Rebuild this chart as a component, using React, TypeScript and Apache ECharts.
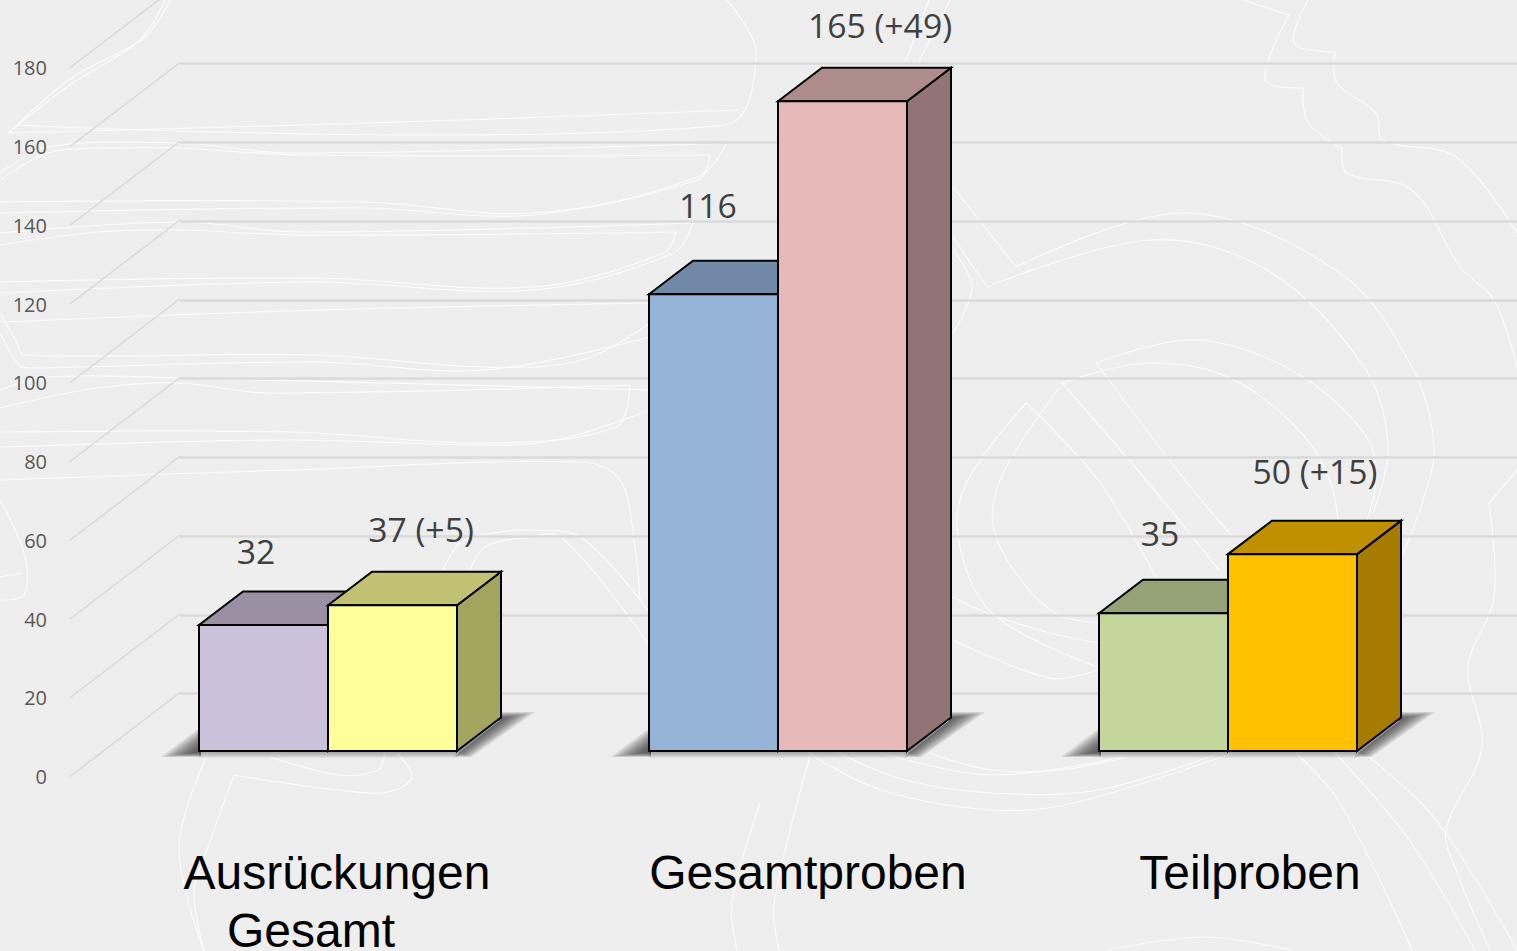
import React, { useEffect, useRef } from "react";
import * as echarts from "echarts";

const categories = ["Ausrückungen\nGesamt", "Gesamtproben", "Teilproben"];
const previousValues = [32, 116, 35];
const currentValues = [37, 165, 50];
const axisTicks = [0, 20, 40, 60, 80, 100, 120, 140, 160, 180];

const prevFront = ["#CCC1DA", "#95B3D7", "#C3D69B"];
const prevTop = ["#9B90A3", "#7189A6", "#94A276"];
const currFront = ["#FFFF99", "#E6B9B8", "#FFC000"];
const currTop = ["#C1C174", "#AE8C8B", "#C19000"];
const currSide = ["#A3A55F", "#917473", "#A57C00"];

// per-point nudges of hand-placed labels, relative to the bar's top
const prevLabelNudge = [[-72, -74], [-70, -89], [-68, -80]];
const currLabelNudge = [[93, -76], [102, -76], [87, -83]];
// per-category label nudges (one list per text line)
const catNudge = [[9, -17], [30], [22]];

const BAR_W = 129;
const DEPTH_X = 44;
const DEPTH_Y = 33.5;
const WALL_DX = 110;
const WALL_DY = 84;
const LABEL_FONT = '33.7px "Open Sans"';
const BASE_BG = "#EEEEEE";
const SHADOW_LAYERS = 9;

// decorative background contour lines
const contours: number[][][] = [
  [[170,0],[145,37],[73,77],[17,125]],
  [[17,125],[725,125],[756,53],[727,0]],
  [[165,0],[140,40],[70,85],[8,133]],
  [[8,133],[400,122],[739,110]],
  [[0,180],[48,153],[111,148],[179,148],[300,155],[710,155]],
  [[710,155],[698,180],[533,213],[364,202],[0,202]],
  [[0,173],[48,147],[179,143],[291,153],[727,143]],
  [[727,143],[698,177],[533,215],[364,208],[0,213]],
  [[0,245],[97,232],[179,230],[300,235],[676,232]],
  [[676,232],[664,253],[533,287],[315,278],[0,282]],
  [[0,233],[179,222],[300,232],[693,223]],
  [[693,223],[674,253],[533,290],[315,282],[0,293]],
  [[0,322],[315,310],[650,303]],
  [[650,323],[582,360],[485,367],[315,355],[24,355],[17,343],[0,313]],
  [[0,333],[19,365],[29,368],[315,362],[485,370],[650,337]],
  [[0,408],[97,388],[179,383],[267,393],[630,385]],
  [[630,385],[616,427],[485,443],[291,432],[0,432]],
  [[0,390],[48,377],[179,378],[650,390]],
  [[650,410],[557,440],[485,445],[291,440],[0,447]],
  [[0,480],[291,470],[582,462],[620,480],[634,540],[640,600]],
  [[443,570],[460,543],[494,533],[533,530],[582,538],[650,613]],
  [[470,570],[485,547],[523,538],[562,538],[650,647]],
  [[208,753],[179,847],[204,951]],
  [[233,777],[208,847],[194,890],[204,951]],
  [[233,775],[339,790],[388,792],[412,777],[397,753]],
  [[270,757],[339,775],[378,770],[385,753]],
  [[0,500],[24,553],[24,595],[0,600]],
  [[0,577],[22,573]],
  [[808,753],[881,790],[992,810],[1074,803],[1233,753]],
  [[832,750],[905,780],[992,793],[1098,790],[1228,750]],
  [[881,753],[992,775],[1122,757]],
  [[929,753],[992,770],[1060,770],[1127,757]],
  [[953,187],[1016,267]],
  [[1016,267],[1185,213],[1340,273],[1412,367],[1434,447],[1422,503],[1400,560]],
  [[953,237],[987,287]],
  [[987,287],[1151,240],[1267,270],[1364,367],[1388,447],[1373,513]],
  [[1096,363],[1195,340],[1291,370],[1364,433],[1376,480],[1360,540]],
  [[1096,363],[1185,480],[1233,537]],
  [[1062,383],[1146,363],[1228,377],[1296,427],[1330,480],[1340,540]],
  [[1062,383],[1146,480],[1219,570]],
  [[1060,387],[1000,480],[996,537],[1050,610],[1098,623]],
  [[1026,403],[968,480],[958,537],[992,613],[1098,667]],
  [[1026,403],[1098,480],[1156,577]],
  [[953,597],[987,613],[1050,633],[1098,643]],
  [[953,640],[1050,678],[1098,670]],
  [[1296,753],[1340,803],[1412,950]],
  [[1335,753],[1407,837],[1475,950]],
  [[1364,753],[1436,820],[1517,950]],
  [[1489,503],[1494,597],[1468,667],[1482,747],[1446,830],[1456,870],[1490,950]],
  [[1517,470],[1489,503]],
  [[1243,0],[1289,15]],
  [[1289,15],[1265,80],[1303,88]],
  [[1303,88],[1308,123],[1342,148]],
  [[1342,148],[1347,173],[1412,190],[1460,267],[1494,300],[1517,367]],
  [[1308,0],[1294,43],[1335,52]],
  [[1335,52],[1337,83],[1376,113],[1383,140],[1456,157],[1517,233]],
  [[953,250],[972,287],[953,333]],
  [[811,753],[774,903],[779,950]],
  [[760,803],[732,903],[737,950]],
  [[1108,950],[1204,937],[1291,950]],
  [[929,0],[905,63]],
  [[950,0],[918,63]],
];

function tokenKey(n: number, lineIndex: number) {
  return (lineIndex === 0 ? "a" : "b") + (n >= 0 ? "r" : "l") + Math.abs(n);
}

function catFormatter(value: string, index: number) {
  return value
    .split("\n")
    .map((line, li) => `{${tokenKey(catNudge[index]?.[li] ?? 0, li)}|${line}}`)
    .join("\n");
}

function catRich() {
  const rich: Record<string, any> = {};
  catNudge.forEach((list) =>
    list.forEach((n, li) => {
      rich[tokenKey(n, li)] = {
        fontFamily: '"Liberation Sans"',
        fontSize: 48,
        // first line tall, second short: centres stay 58px apart and the box ends on the page
        lineHeight: li === 0 ? 76 : 40,
        color: "#000000",
        padding: n >= 0 ? [0, 0, 0, 2 * n] : [0, -2 * n, 0, 0],
      };
    })
  );
  return rich;
}

const edge = { stroke: "#000000", lineWidth: 2, lineJoin: "miter" };

function poly(points: number[][], fill: string) {
  return { type: "polygon", shape: { points }, style: { fill, ...edge } };
}

function barItem(
  offsetSign: number,
  front: string[],
  top: string[],
  side: string[] | null,
  nudges: number[][],
  text: (i: number, v: number) => string
) {
  return (params: any, api: any) => {
    const i = api.value(0);
    const v = api.value(1);
    const t = api.coord([i, v]);
    const b = api.coord([i, 0]);
    const x0 = offsetSign < 0 ? t[0] - BAR_W : t[0];
    const x1 = x0 + BAR_W;
    const children: any[] = [];
    children.push(
      poly([[x1, t[1]], [x1 + DEPTH_X, t[1] - DEPTH_Y], [x1 + DEPTH_X, b[1] - DEPTH_Y], [x1, b[1]]], side ? side[i] : top[i])
    );
    children.push(
      poly([[x0, t[1]], [x0 + DEPTH_X, t[1] - DEPTH_Y], [x1 + DEPTH_X, t[1] - DEPTH_Y], [x1, t[1]]], top[i])
    );
    children.push(poly([[x0, t[1]], [x1, t[1]], [x1, b[1]], [x0, b[1]]], front[i]));
    children.push({
      type: "text",
      style: {
        text: text(i, v),
        x: t[0] + nudges[i][0],
        y: t[1] + nudges[i][1],
        fill: "#404040",
        font: LABEL_FONT,
        align: "center",
        verticalAlign: "middle",
      },
    });
    return { type: "group", children };
  };
}

// a soft shadow: nested polygons, each a thin veil, from the outer shape to the inner one
function softLayers(outer: number[][], inner: number[][], alpha: number) {
  const out: any[] = [];
  for (let k = 0; k < SHADOW_LAYERS; k++) {
    const f = k / (SHADOW_LAYERS - 1);
    out.push({
      type: "polygon",
      shape: {
        points: outer.map((p, j) => [
          p[0] + (inner[j][0] - p[0]) * f,
          p[1] + (inner[j][1] - p[1]) * f,
        ]),
      },
      style: { fill: `rgba(40,40,40,${alpha})` },
    });
  }
  return out;
}

function shadowItem(params: any, api: any) {
  const b = api.coord([api.value(0), 0]);
  const x0 = b[0] - BAR_W;
  const x2 = b[0] + BAR_W;
  const y = b[1];
  const backX = x2 + DEPTH_X;
  return {
    type: "group",
    children: [
      ...softLayers(
        [[x0 + 2, y - 24], [x0 + 2, y + 6], [x0 - 38, y + 6]],
        [[x0 + 2, y - 6], [x0 + 2, y + 2], [x0 - 8, y + 2]],
        0.12
      ),
      ...softLayers(
        [[x0, y], [x2, y], [x2, y + 7], [x0, y + 7]],
        [[x0, y], [x2, y], [x2, y + 2], [x0, y + 2]],
        0.045
      ),
      ...softLayers(
        [[x2 - 2, y + 6], [backX - 2, y - 30], [backX - 2, y - 39], [backX + 34, y - 39], [x2 + 14, y + 6]],
        [[x2 - 2, y + 1], [backX - 2, y - 30], [backX - 2, y - 33], [backX + 3, y - 33], [x2 + 2, y + 1]],
        0.12
      ),
    ],
  };
}

function diagonalItem(params: any, api: any) {
  const p = api.coord([0, api.value(0)]);
  return {
    type: "line",
    shape: { x1: p[0], y1: p[1], x2: p[0] + WALL_DX, y2: p[1] - WALL_DY },
    style: { stroke: "#D9D9D9", lineWidth: 1.5 },
  };
}

export default function App() {
  const ref = useRef<HTMLDivElement>(null);
  useEffect(() => {
    const chart = echarts.init(ref.current!, undefined, { renderer: "svg" });
    const HEIGHT = 708.75;
    chart.setOption({
      animation: false,
      backgroundColor: BASE_BG,
      graphic: contours.map((points) => ({
        type: "polyline",
        z: -1,
        silent: true,
        shape: { points, smooth: 0.35 },
        style: { stroke: "#FFFFFF", lineWidth: 1.2, opacity: 0.8, fill: "none" },
      })),
      grid: [
        { left: 103, width: 1350, top: 751 - HEIGHT, height: HEIGHT, outerBoundsMode: "none" },
        { left: 70, width: 110, top: 776.5 - HEIGHT, height: HEIGHT, outerBoundsMode: "none" },
        { left: 180, right: 0, top: 63.5, height: 630, outerBoundsMode: "none" },
      ],
      xAxis: [
        {
          type: "category",
          gridIndex: 0,
          data: categories,
          axisLine: { show: false },
          axisTick: { show: false },
          axisLabel: {
            margin: 83,
            interval: 0,
            align: "center",
            formatter: catFormatter,
            rich: catRich(),
          },
        },
        { type: "value", gridIndex: 1, min: 0, max: 1, show: false },
        { type: "value", gridIndex: 2, min: 0, max: 1, show: false },
      ],
      yAxis: [
        { type: "value", gridIndex: 0, min: 0, max: 180, interval: 20, show: false },
        {
          type: "value",
          gridIndex: 1,
          min: 0,
          max: 180,
          interval: 20,
          axisLine: { show: false },
          axisTick: { show: false },
          splitLine: { show: false },
          axisLabel: {
            margin: 23,
            color: "#595959",
            fontFamily: '"Open Sans"',
            fontSize: 20,
          },
        },
        {
          type: "value",
          gridIndex: 2,
          min: 0,
          max: 160,
          interval: 20,
          axisLine: { show: false },
          axisTick: { show: false },
          axisLabel: { show: false },
          splitLine: { show: true, lineStyle: { color: "#DADADA", width: 2.5 } },
        },
      ],
      series: [
        {
          type: "custom",
          xAxisIndex: 1,
          yAxisIndex: 1,
          z: 1,
          silent: true,
          clip: false,
          renderItem: diagonalItem,
          data: axisTicks.map((t) => [t]),
          encode: { y: 0 },
        },
        {
          type: "custom",
          xAxisIndex: 0,
          yAxisIndex: 0,
          z: 2,
          silent: true,
          clip: false,
          renderItem: shadowItem,
          data: categories.map((_, i) => [i]),
          encode: { x: 0 },
        },
        {
          type: "custom",
          name: "Vorjahr",
          xAxisIndex: 0,
          yAxisIndex: 0,
          z: 3,
          clip: false,
          renderItem: barItem(-1, prevFront, prevTop, null, prevLabelNudge, (_i, v) => String(v)),
          data: previousValues.map((v, i) => [i, v]),
          encode: { x: 0, y: 1 },
        },
        {
          type: "custom",
          name: "Aktuell",
          xAxisIndex: 0,
          yAxisIndex: 0,
          z: 3,
          clip: false,
          renderItem: barItem(1, currFront, currTop, currSide, currLabelNudge, (i, v) => `${v} (+${v - previousValues[i]})`),
          data: currentValues.map((v, i) => [i, v]),
          encode: { x: 0, y: 1 },
        },
      ],
    });
    return () => chart.dispose();
  }, []);
  return <div ref={ref} style={{ position: "absolute", left: 0, top: 0, width: 1517, height: 951 }} />;
}
